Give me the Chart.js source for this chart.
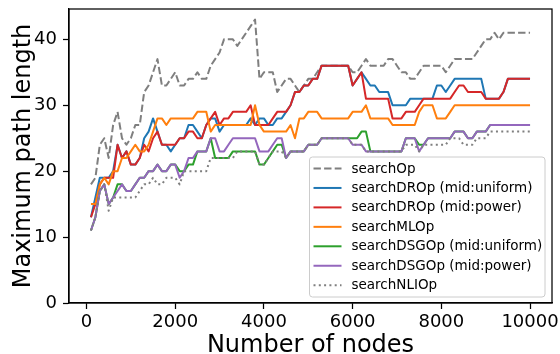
<!DOCTYPE html>
<html>
<head>
<meta charset="utf-8">
<title>Maximum path length</title>
<script src="https://cdn.jsdelivr.net/npm/chart.js@4.4.1/dist/chart.umd.min.js"></script>
<style>
html,body{margin:0;padding:0;background:#fff;}
canvas{display:block;}
</style>
</head>
<body>
<canvas id="pathChart" width="560" height="354"></canvas>
<script>

// =====================================
// Data
// =====================================

const nodes = [
100,200,300,400,500,600,700,800,900,1000,
1100,1200,1300,1400,1500,1600,1700,1800,1900,2000,
2100,2200,2300,2400,2500,2600,2700,2800,2900,3000,
3100,3200,3300,3400,3500,3600,3700,3800,3900,4000,
4100,4200,4300,4400,4500,4600,4700,4800,4900,5000,
5100,5200,5300,5400,5500,5600,5700,5800,5900,6000,
6100,6200,6300,6400,6500,6600,6700,6800,6900,7000,
7100,7200,7300,7400,7500,7600,7700,7800,7900,8000,
8100,8200,8300,8400,8500,8600,8700,8800,8900,9000,
9100,9200,9300,9400,9500,9600,9700,9800,9900,10000
];

const searchOp = [
18,19,24,25,22,27,29,25,24,25,
27,27,32,33,35,37,33,33,34,35,
33,33,34,34,35,34,34,36,37,38,
40,40,40,39,40,41,42,43,34,35,
35,35,32,33,34,34,33,32,33,34,
34,35,36,36,36,36,36,36,36,35,
35,36,37,36,36,36,36,37,37,36,
35,35,34,34,35,36,36,36,36,36,
35,36,37,37,37,37,37,38,39,40,
40,41,40,41,41,41,41,41,41,41
];

const droUniform = [
13,16,19,19,19,20,24,22,23,21,
21,22,25,26,28,26,24,24,23,24,
25,25,27,27,26,25,27,28,28,26,
27,27,27,27,27,27,28,27,28,28,
27,27,28,28,29,30,32,32,33,33,
34,34,36,36,36,36,36,36,36,33,
34,35,34,33,33,32,32,32,30,30,
30,30,31,31,31,31,31,31,33,33,
32,33,34,34,34,34,34,34,34,31,
31,31,31,32,34,34,34,34,34,34
];

const droPower = [
13,15,18,19,19,19,24,22,23,21,
21,22,24,23,25,26,24,24,24,24,
25,25,26,26,25,25,27,28,29,27,
28,28,29,29,29,29,30,27,27,27,
27,28,29,29,29,30,32,32,33,33,
34,34,36,36,36,36,36,36,36,33,
34,35,31,31,31,31,31,31,28,28,
28,29,29,29,30,31,31,31,31,31,
31,31,32,33,33,32,32,32,32,31,
31,31,31,32,34,34,34,34,34,34
];

const mlOp = [
15,15,18,19,18,20,20,22,22,23,
24,23,23,24,26,28,28,27,28,28,
28,28,28,28,29,29,29,26,27,27,
27,27,27,27,27,27,27,30,27,26,
26,26,26,26,26,27,25,28,28,29,
29,29,28,28,28,28,28,28,28,29,
29,29,30,28,28,28,28,28,27,27,
27,27,27,27,29,30,30,30,28,28,
28,29,30,30,30,30,30,30,30,30,
30,30,30,30,30,30,30,30,30,30
];

const dsgUniform = [
11,13,17,18,15,16,18,18,17,17,
18,19,19,20,20,21,20,20,21,21,
20,20,21,21,23,23,23,25,22,22,
22,22,23,23,23,23,23,23,21,21,
22,23,24,24,22,23,23,23,23,24,
24,24,25,25,25,25,25,25,25,25,
25,26,26,23,23,23,23,23,23,23,
23,25,25,25,24,24,25,25,25,25,
25,25,26,26,26,25,25,26,26,26,
27,27,27,27,27,27,27,27,27,27
];

const dsgPower = [
11,13,17,18,15,16,17,18,17,17,
18,19,19,20,20,21,20,20,21,21,
19,20,22,22,23,23,23,25,25,23,
23,24,25,25,25,25,25,25,23,23,
23,24,25,25,22,23,23,23,23,24,
24,24,25,25,25,25,25,25,25,24,
24,24,23,23,23,23,23,23,23,23,
23,25,25,25,23,24,25,25,25,25,
25,25,26,26,26,25,25,26,26,26,
27,27,27,27,27,27,27,27,27,27
];

const nliOp = [
11,13,17,18,14,16,16,16,16,16,
16,17,18,18,19,18,18,19,19,19,
18,20,20,20,20,20,20,22,22,22,
22,22,22,23,23,23,23,23,21,21,
22,23,23,23,22,23,23,23,23,24,
24,24,25,25,25,25,25,25,25,24,
24,24,23,23,23,23,23,23,23,23,
23,24,24,24,23,24,24,24,24,24,
24,25,25,25,24,24,24,25,25,25,
26,26,26,26,26,26,26,26,26,26
];

const seriesNames = [
"searchOp",
"searchDROp (mid:uniform)",
"searchDROp (mid:power)",
"searchMLOp",
"searchDSGOp (mid:uniform)",
"searchDSGOp (mid:power)",
"searchNLIOp"
];

const xTicks = [0,2000,4000,6000,8000,10000];
const yTicks = [0,10,20,30,40];

// =====================================
// Datasets
// =====================================

const FONT = "DejaVu Sans";

function toPoints(values){

    return values.map((v,i) => ({x:nodes[i], y:v}));

}

function makeLine(i, values, color, dash){

    return {
        label: seriesNames[i],
        data: toPoints(values),
        borderColor: color,
        borderWidth: 2,
        borderDash: dash,
        borderJoinStyle: "round",
        pointRadius: 0,
        tension: 0,
        fill: false,
        // later series are painted over earlier ones
        order: 6 - i
    };

}

const datasets = [
    makeLine(0, searchOp,   "#7f7f7f", [7.4,3.2]),
    makeLine(1, droUniform, "#1f77b4", []),
    makeLine(2, droPower,   "#d62728", []),
    makeLine(3, mlOp,       "#ff7f0e", []),
    makeLine(4, dsgUniform, "#2ca02c", []),
    makeLine(5, dsgPower,   "#9467bd", []),
    makeLine(6, nliOp,      "#7f7f7f", [2,3.3])
];

// =====================================
// Plugins: axes frame + boxed legend
// =====================================

const frame = {
    id: "frame",
    afterDatasetsDraw(chart){
        const {ctx, chartArea:a} = chart;
        ctx.save();
        ctx.strokeStyle = "#000";
        ctx.lineWidth = 1.25;
        ctx.strokeRect(a.left, a.top, a.right - a.left, a.bottom - a.top);
        ctx.restore();
    }
};

const boxLegend = {
    id: "boxLegend",
    afterDraw(chart){
        const ctx = chart.ctx;
        ctx.save();

        ctx.beginPath();
        ctx.roundRect(309.5, 157, 235.5, 140, 3);
        ctx.fillStyle = "rgba(255,255,255,0.8)";
        ctx.fill();
        ctx.strokeStyle = "#cccccc";
        ctx.lineWidth = 1;
        ctx.stroke();

        ctx.font = "13.5px '" + FONT + "'";
        ctx.textBaseline = "middle";
        ctx.textAlign = "left";

        chart.data.datasets.forEach((ds, i) => {
            const y = 168.5 + i * 19.45;
            ctx.beginPath();
            ctx.setLineDash(ds.borderDash);
            ctx.strokeStyle = ds.borderColor;
            ctx.lineWidth = ds.borderWidth;
            ctx.moveTo(313.5, y);
            ctx.lineTo(341.5, y);
            ctx.stroke();
            ctx.setLineDash([]);
            ctx.fillStyle = "#000";
            ctx.fillText(ds.label, 351.5, y + 0.5);
        });

        ctx.restore();
    }
};

// =====================================
// Chart
// =====================================

const axisGrid = {
    drawOnChartArea: false,
    drawTicks: true,
    tickLength: 6,
    tickColor: "#000",
    tickWidth: 1.25
};

const axisBorder = { display: true, color: "#000", width: 1.25 };

new Chart(document.getElementById("pathChart"), {
    type: "line",
    data: { datasets: datasets },
    options: {
        responsive: false,
        animation: false,
        devicePixelRatio: 1,
        layout: { padding: { top: 9, right: 8, left: 0, bottom: 0 } },
        plugins: {
            legend: { display: false },
            tooltip: { enabled: false }
        },
        scales: {
            x: {
                type: "linear",
                min: -395,
                max: 10495,
                afterBuildTicks: s => { s.ticks = xTicks.map(v => ({value: v})); },
                afterFit: s => {
                    s.height = 51;
                    s.paddingLeft = 0;
                    s.paddingRight = 0;
                },
                grid: axisGrid,
                border: axisBorder,
                ticks: {
                    font: { family: FONT, size: 18 },
                    color: "#000",
                    padding: 3,
                    maxRotation: 0,
                    autoSkip: false,
                    callback: v => String(v)
                },
                title: {
                    display: true,
                    text: "Number of nodes",
                    color: "#000",
                    font: { family: FONT, size: 24, lineHeight: 0.7 },
                    padding: { top: 0, bottom: 0 }
                }
            },
            y: {
                min: 0,
                max: 44.6,
                afterBuildTicks: s => { s.ticks = yTicks.map(v => ({value: v})); },
                afterFit: s => {
                    s.width = 69;
                    s.paddingTop = 0;
                    s.paddingBottom = 0;
                },
                grid: axisGrid,
                border: axisBorder,
                ticks: {
                    font: { family: FONT, size: 18 },
                    color: "#000",
                    padding: 6,
                    callback: v => String(v)
                },
                title: {
                    display: true,
                    text: "Maximum path length",
                    color: "#000",
                    font: { family: FONT, size: 24 },
                    padding: { top: 9, bottom: 0 }
                }
            }
        }
    },
    plugins: [frame, boxLegend]
});

</script>
</body>
</html>
